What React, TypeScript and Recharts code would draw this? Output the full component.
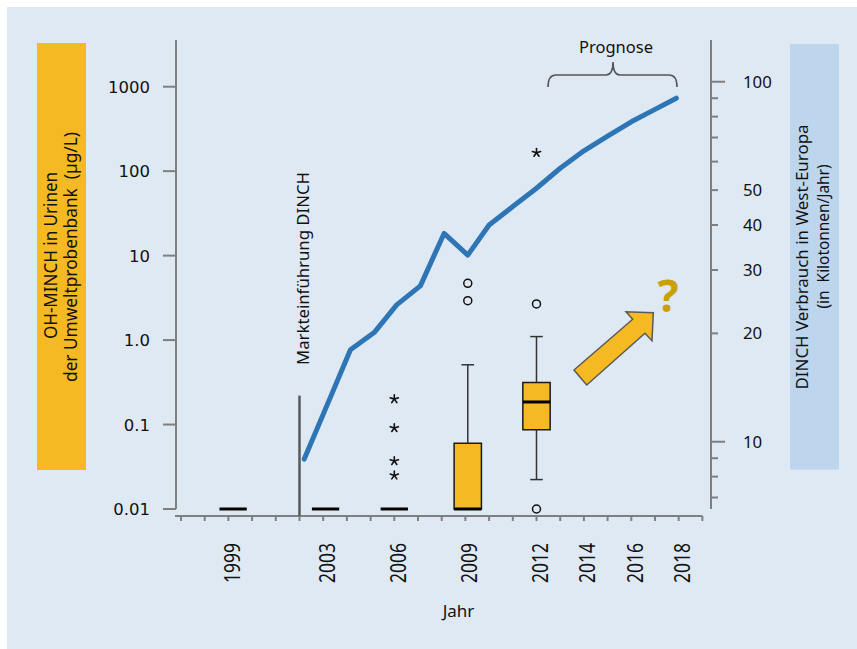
import React from 'react';
import {
  ComposedChart,
  Line,
  Scatter,
  XAxis,
  YAxis,
  ReferenceArea,
  ReferenceLine,
} from 'recharts';

// ---------- axes ----------
const xTicks = [1997, 1998, 1999, 2000, 2001, 2002, 2003, 2004, 2005, 2006, 2007, 2008, 2009, 2010, 2011, 2012, 2013, 2014, 2015, 2016, 2017, 2018, 2019];
const xLabelYears = [1999, 2003, 2006, 2009, 2012, 2014, 2016, 2018];
const leftTicks = [0.01, 0.1, 1, 10, 100, 1000];
const leftTickLabels = ['0.01', '0.1', '1.0', '10', '100', '1000'];
const rightTicks = [7, 8, 9, 10, 20, 30, 40, 50, 60, 70, 80, 90, 100];
const rightLabelValues = [10, 20, 30, 40, 50, 100];
const rightMajorValues = [10, 100];

// ---------- DINCH consumption (kt/year, right axis) ----------
const consumptionYears = [2002.2, 2003.2, 2004.15, 2005.15, 2006.1, 2007.1, 2008.1, 2009.1, 2010, 2011, 2012, 2013, 2014, 2015, 2016, 2017, 2017.9];
const consumptionKt = [8.95, 12.8, 18.0, 20.1, 24.0, 27.1, 37.9, 33.0, 40.0, 45.0, 50.6, 57.5, 64.3, 70.6, 77.4, 83.8, 90.0];

// ---------- OH-MINCH box plots (µg/L, left axis) ----------
const boxYears = [1999.2, 2003.1, 2006, 2009.1, 2012];
const boxWhiskerLow = [0.01, 0.01, 0.01, 0.01, 0.0223];
const boxQ1 = [0.01, 0.01, 0.01, 0.01, 0.087];
const boxMedian = [0.01, 0.01, 0.01, 0.01, 0.185];
const boxQ3 = [0.01, 0.01, 0.01, 0.06, 0.315];
const boxWhiskerHigh = [0.01, 0.01, 0.01, 0.51, 1.1];

const outlierYears = [2009.1, 2009.1, 2012, 2012];
const outlierValues = [4.7, 2.93, 2.68, 0.01];
const extremeYears = [2006, 2006, 2006, 2006, 2012];
const extremeValues = [0.2, 0.091, 0.037, 0.025, 165];

const launchYear = 2002;
const launchTopValue = 0.22;

// ---------- layout constants ----------
const X_DOMAIN: [number, number] = [1996.789, 2019.363];
const LEFT_DOMAIN: [number, number] = [0.01, 3572];
const RIGHT_DOMAIN: [number, number] = [6.504, 130.6];
const AXIS_BASE = 0.00826; // left-axis value at the x-axis line (below plot)
const X_LINE_START = 1996.747;
const X_LINE_END = 2019;
const BOX_HALF = 0.576;
const CAP_HALF = 0.266;

const AXIS = '#7f7f7f';
const YELLOW = '#f5b921';
const TEXT = '#111111';
const SANS = '"Noto Sans", "Open Sans", sans-serif';
const PRE = { whiteSpace: 'pre' as const };

const lineData = consumptionYears.map((x, i) => ({ x, y: consumptionKt[i] }));
const outlierData = outlierYears.map((x, i) => ({ x, y: outlierValues[i] }));
const extremeData = extremeYears.map((x, i) => ({ x, y: extremeValues[i] }));

const XTick = (props: any) => {
  const { x, y, payload } = props;
  const v = payload.value;
  const show = xLabelYears.includes(v);
  return (
    <g>
      <line x1={x} y1={y + 7} x2={x} y2={y + 12} stroke={AXIS} strokeWidth={2} />
      {show && (
        <text
          transform={`translate(${x + 11.5},${y + 34}) rotate(-90) scale(1,1.2)`}
          textAnchor="end"
          fontFamily={SANS}
          fontSize={17.5}
          fill={TEXT}
          textLength={40}
          lengthAdjust="spacingAndGlyphs"
        >
          {v}
        </text>
      )}
    </g>
  );
};

const LeftTick = (props: any) => {
  const { x, y, payload } = props;
  const idx = leftTicks.indexOf(payload.value);
  return (
    <text x={x} y={y + 6} textAnchor="end" fontFamily='"DejaVu Sans", sans-serif' fontSize={16.5} fill={TEXT}>
      {leftTickLabels[idx]}
    </text>
  );
};

const RightTick = (props: any) => {
  const { x, y, payload } = props;
  const v = payload.value;
  const major = rightMajorValues.includes(v);
  const label = rightLabelValues.includes(v);
  return (
    <g>
      <line x1={x} y1={y} x2={x + (major ? 14 : 7)} y2={y} stroke={AXIS} strokeWidth={2} />
      {label && (
        <text x={x + 32} y={y + 6} fontFamily={SANS} fontSize={16.8} fill={TEXT}>
          {v}
        </text>
      )}
    </g>
  );
};

const CircleShape = (props: any) => {
  const { cx, cy } = props;
  return <circle cx={cx} cy={cy} r={4} fill="none" stroke="#111" strokeWidth={1.5} />;
};

const StarShape = (props: any) => {
  const { cx, cy } = props;
  const angles = [-90, -18, 54, 126, 198];
  return (
    <g>
      {angles.map((a) => {
        const r = (a * Math.PI) / 180;
        return (
          <line
            key={a}
            x1={cx}
            y1={cy}
            x2={cx + 4.3 * Math.cos(r)}
            y2={cy + 4.3 * Math.sin(r)}
            stroke="#111"
            strokeWidth={1.6}
            strokeLinecap="round"
          />
        );
      })}
    </g>
  );
};

export default function App() {
  const boxes: React.ReactNode[] = [];
  boxYears.forEach((yr, i) => {
    const lo = boxWhiskerLow[i];
    const q1 = boxQ1[i];
    const med = boxMedian[i];
    const q3 = boxQ3[i];
    const hi = boxWhiskerHigh[i];
    if (hi > q3) {
      boxes.push(
        <ReferenceLine key={`wh${i}`} yAxisId="left" ifOverflow="visible" stroke="#333" strokeWidth={1.5}
          segment={[{ x: yr, y: q3 }, { x: yr, y: hi }]} />,
        <ReferenceLine key={`ch${i}`} yAxisId="left" ifOverflow="visible" stroke="#333" strokeWidth={1.5}
          segment={[{ x: yr - CAP_HALF, y: hi }, { x: yr + CAP_HALF, y: hi }]} />
      );
    }
    if (lo < q1) {
      boxes.push(
        <ReferenceLine key={`wl${i}`} yAxisId="left" ifOverflow="visible" stroke="#333" strokeWidth={1.5}
          segment={[{ x: yr, y: lo }, { x: yr, y: q1 }]} />,
        <ReferenceLine key={`cl${i}`} yAxisId="left" ifOverflow="visible" stroke="#333" strokeWidth={1.5}
          segment={[{ x: yr - CAP_HALF, y: lo }, { x: yr + CAP_HALF, y: lo }]} />
      );
    }
    if (q3 > q1) {
      boxes.push(
        <ReferenceArea key={`b${i}`} yAxisId="left" ifOverflow="visible" x1={yr - BOX_HALF} x2={yr + BOX_HALF}
          y1={q1} y2={q3} fill={YELLOW} fillOpacity={1} stroke="#1a1a1a" strokeWidth={1.5} />
      );
    }
    boxes.push(
      <ReferenceLine key={`m${i}`} yAxisId="left" ifOverflow="visible" stroke="#000" strokeWidth={3}
        segment={[{ x: yr - BOX_HALF, y: med }, { x: yr + BOX_HALF, y: med }]} />
    );
  });

  return (
    <div style={{ position: 'absolute', left: 0, top: 0, width: 857, height: 649, background: '#ffffff', overflow: 'hidden' }}>
      <div style={{ position: 'absolute', left: 7, top: 7, width: 850, height: 642, background: '#dfe9f4' }} />
      <div style={{ position: 'absolute', left: 0, top: 0 }}>
        <ComposedChart width={857} height={649} margin={{ top: 40, right: 0, bottom: 0, left: 0 }}>
          <XAxis
            dataKey="x"
            type="number"
            domain={X_DOMAIN}
            ticks={xTicks}
            interval={0}
            tickSize={0}
            tickMargin={0}
            tickLine={false}
            axisLine={false}
            tick={XTick}
            height={140}
          />
          <YAxis
            yAxisId="left"
            orientation="left"
            dataKey="y"
            width={176}
            scale="log"
            type="number"
            domain={LEFT_DOMAIN}
            ticks={leftTicks}
            interval={0}
            tickSize={13}
            tickMargin={13}
            axisLine={{ stroke: AXIS, strokeWidth: 2 }}
            tickLine={{ stroke: AXIS, strokeWidth: 2 }}
            tick={LeftTick}
          />
          <YAxis
            yAxisId="right"
            orientation="right"
            dataKey="y"
            width={146}
            scale="log"
            type="number"
            domain={RIGHT_DOMAIN}
            ticks={rightTicks}
            interval={0}
            tickSize={0}
            tickMargin={0}
            tickLine={false}
            axisLine={{ stroke: AXIS, strokeWidth: 2 }}
            tick={RightTick}
          />

          <ReferenceLine yAxisId="left" ifOverflow="visible" stroke={AXIS} strokeWidth={2}
            segment={[{ x: X_LINE_START, y: AXIS_BASE }, { x: X_LINE_END, y: AXIS_BASE }]} />
          <ReferenceLine yAxisId="left" ifOverflow="visible" stroke="#595959" strokeWidth={2.5}
            segment={[{ x: launchYear, y: AXIS_BASE }, { x: launchYear, y: launchTopValue }]} />

          {boxes}

          <Scatter yAxisId="left" data={outlierData} dataKey="y" shape={CircleShape} isAnimationActive={false} />
          <Scatter yAxisId="left" data={extremeData} dataKey="y" shape={StarShape} isAnimationActive={false} />

          <Line
            yAxisId="right"
            data={lineData}
            dataKey="y"
            type="linear"
            stroke="#2e75b6"
            strokeWidth={5}
            strokeLinecap="round"
            strokeLinejoin="round"
            dot={false}
            activeDot={false}
            isAnimationActive={false}
          />
        </ComposedChart>
      </div>

      <svg width={857} height={649} style={{ position: 'absolute', left: 0, top: 0, pointerEvents: 'none' }}>
        {/* side label boxes */}
        <rect x={37} y={43} width={49} height={427} fill={YELLOW} />
        <rect x={790} y={44} width={49} height={425.5} fill="#bdd5ed" />

        <text transform="translate(56.7,255.5) rotate(-90) scale(1,1.1)" textAnchor="middle" fontFamily={SANS} fontSize={17} fill={TEXT}
          textLength={167} lengthAdjust="spacingAndGlyphs" style={PRE}>
          OH-MINCH in Urinen
        </text>
        <text transform="translate(77,257) rotate(-90) scale(1,1.05)" textAnchor="middle" fontFamily={SANS} fontSize={17} fill={TEXT}
          textLength={250} lengthAdjust="spacingAndGlyphs" style={PRE}>
          {'der Umweltprobenbank  (µg/L)'}
        </text>

        <text transform="translate(808,257) rotate(-90)" textAnchor="middle" fontFamily={SANS} fontSize={16.8} fill={TEXT}
          textLength={265} lengthAdjust="spacingAndGlyphs" style={PRE}>
          DINCH Verbrauch in West-Europa
        </text>
        <text transform="translate(829,236.5) rotate(-90)" textAnchor="middle" fontFamily={SANS} fontSize={16} fill={TEXT}
          textLength={144} lengthAdjust="spacingAndGlyphs" style={PRE}>
          {'(in  Kilotonnen/Jahr)'}
        </text>

        {/* market launch label */}
        <text transform="translate(309,365) rotate(-90)" textAnchor="start" fontFamily={SANS} fontSize={16.7} fill={TEXT}
          textLength={193} lengthAdjust="spacingAndGlyphs">
          Markteinführung DINCH
        </text>

        {/* forecast brace */}
        <path
          d="M548,87 Q548,75 556,75 L606,75 Q613,75 613,62 Q613,75 620,75 L669,75 Q677,75 677,87"
          fill="none"
          stroke="#555"
          strokeWidth={1.6}
        />
        <text x={616} y={52.5} textAnchor="middle" fontFamily={SANS} fontSize={16.5} fill={TEXT}
          textLength={74} lengthAdjust="spacingAndGlyphs">
          Prognose
        </text>

        {/* arrow and question mark */}
        <polygon
          points="574,370 632.7,319.3 626,311.7 653.3,312.7 652,340.7 645,333.3 586.7,385"
          fill={YELLOW}
          stroke="#5a5a5a"
          strokeWidth={1.5}
          strokeLinejoin="miter"
        />
        <text x={668} y={312} textAnchor="middle" fontFamily={SANS} fontWeight="bold" fontSize={44} fill="#c9a005">
          ?
        </text>

        {/* x axis title */}
        <text x={458.5} y={617} textAnchor="middle" fontFamily={SANS} fontSize={17} fill={TEXT}>
          Jahr
        </text>
      </svg>
    </div>
  );
}
